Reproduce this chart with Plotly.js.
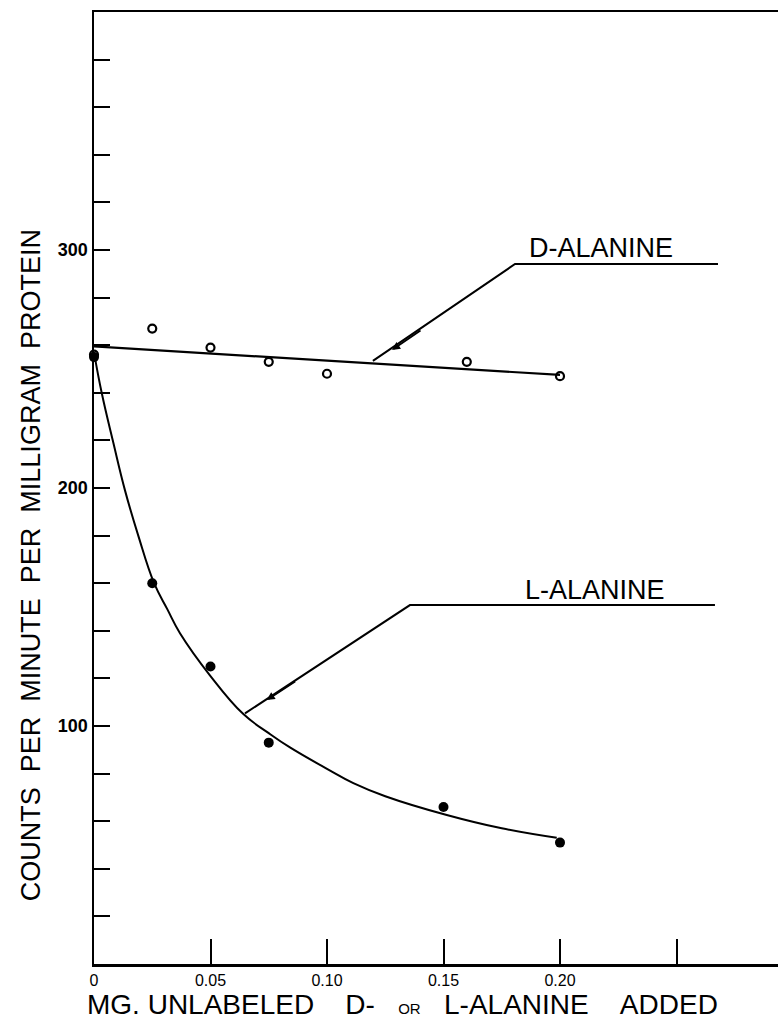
<!DOCTYPE html>
<html>
<head>
<meta charset="utf-8">
<script src="https://cdn.plot.ly/plotly-3.0.1.min.js"></script>
<style>html,body{margin:0;padding:0;background:#fff;}#chart{width:778px;height:1036px;}</style>
</head>
<body>
<div id="chart"></div>
<script>
// ---- data ----
const dAlanineX = [0, 0.025, 0.05, 0.075, 0.10, 0.16, 0.20];
const dAlanineY = [256, 267, 259, 253, 248, 253, 247];
const lAlanineX = [0, 0.025, 0.05, 0.075, 0.15, 0.20];
const lAlanineY = [255, 160, 125, 93, 66, 51];
const dFitX = [0, 0.20];
const dFitY = [259.5, 247.5];
const lCurveX = [0, 0.0033, 0.0083, 0.0133, 0.019, 0.0258, 0.0315, 0.0369, 0.05, 0.0641, 0.075, 0.0841, 0.10, 0.1113, 0.125, 0.1514, 0.175, 0.1986];
const lCurveY = [257, 240, 219, 199, 180, 160, 149, 139, 121, 105, 97, 91, 82, 76, 70.5, 62.6, 57, 53];
const xTickVals = [0, 0.05, 0.10, 0.15, 0.20, 0.25];
const xTickText = ['0', '0.05', '0.10', '0.15', '0.20', ''];
const yTickVals = [20, 40, 60, 80, 100, 120, 140, 160, 180, 200, 220, 240, 260, 280, 300, 320, 340, 360, 380];
const yTickText = ['', '', '', '', '100', '', '', '', '', '200', '', '', '', '', '300', '', '', '', ''];
const labelNames = ['D-ALANINE', 'L-ALANINE'];
const labelX = [0.2176, 0.215];
const labelY = [301, 157];
const dPointerX = [0.2678, 0.1807, 0.1197];
const dPointerY = [294.1, 294.1, 253.4];
const lPointerX = [0.2665, 0.1356, 0.0648];
const lPointerY = [150.8, 150.8, 105.3];
const arrowTipX = [0.1279, 0.0741];
const arrowTipY = [258.0, 110.9];
const NB = '\u00a0';
const xTitle = 'MG. UNLABELED' + NB.repeat(4) + 'D-' + NB.repeat(3) + '<span style="font-size:15px">OR</span>' + NB.repeat(3) + 'L-ALANINE' + NB.repeat(4) + 'ADDED';
const yTitle = 'COUNTS\u00a0\u00a0PER\u00a0\u00a0MINUTE\u00a0\u00a0PER\u00a0\u00a0MILLIGRAM\u00a0\u00a0PROTEIN';

const FONT = 'Liberation Sans, Arial, sans-serif';
const traces = [
  {x: dFitX, y: dFitY, mode: 'lines', line: {color: '#000', width: 2.2}, hoverinfo: 'skip', cliponaxis: false},
  {x: lCurveX, y: lCurveY, mode: 'lines', line: {color: '#000', width: 2, shape: 'spline', smoothing: 1.2}, hoverinfo: 'skip', cliponaxis: false},
  {x: dAlanineX, y: dAlanineY, mode: 'markers', cliponaxis: false,
   marker: {symbol: 'circle-open', size: 8, color: '#000', line: {width: 2.2, color: '#000'}}},
  {x: lAlanineX, y: lAlanineY, mode: 'markers', cliponaxis: false,
   marker: {symbol: 'circle', size: 10, color: '#000'}}
];

function pathFrom(xs, ys) {
  return xs.map((v, i) => (i === 0 ? 'M ' : ' L ') + v + ',' + ys[i]).join('');
}

const layout = {
  width: 778, height: 1036,
  margin: {l: 94, r: 0, t: 12, b: 72, pad: 0},
  paper_bgcolor: '#fff', plot_bgcolor: '#fff',
  showlegend: false,
  font: {family: FONT, color: '#000', size: 16},
  xaxis: {
    range: [0, 0.29356], showgrid: false, zeroline: false,
    showline: true, linecolor: '#000', linewidth: 2.5, mirror: true,
    ticks: 'inside', ticklen: 25, tickwidth: 2, tickcolor: '#000',
    tickvals: xTickVals, ticktext: xTickText,
    tickfont: {family: FONT, size: 16, color: '#000'}
  },
  yaxis: {
    range: [0, 400], showgrid: false, zeroline: false,
    showline: true, linecolor: '#000', linewidth: 2.5, mirror: false,
    ticks: 'inside', ticklen: 16, tickwidth: 2, tickcolor: '#000',
    tickvals: yTickVals, ticktext: yTickText,
    tickfont: {family: FONT, size: 18, color: '#000', weight: 'bold'}
  },
  shapes: [
    {type: 'path', xref: 'x', yref: 'y', path: pathFrom(dPointerX, dPointerY), line: {color: '#000', width: 2}},
    {type: 'path', xref: 'x', yref: 'y', path: pathFrom(lPointerX, lPointerY), line: {color: '#000', width: 2}}
  ],
  annotations: [
    {x: labelX[0], y: labelY[0], xref: 'x', yref: 'y', text: labelNames[0], showarrow: false,
     font: {family: FONT, size: 27, color: '#000'}, xanchor: 'center', yanchor: 'middle'},
    {x: labelX[1], y: labelY[1], xref: 'x', yref: 'y', text: labelNames[1], showarrow: false,
     font: {family: FONT, size: 27, color: '#000'}, xanchor: 'center', yanchor: 'middle'},
    {x: arrowTipX[0], y: arrowTipY[0], xref: 'x', yref: 'y', text: '', showarrow: true,
     ax: 30, ay: -20.5, arrowhead: 2, arrowsize: 0.9, arrowwidth: 1.8, arrowcolor: '#000', standoff: 0},
    {x: arrowTipX[1], y: arrowTipY[1], xref: 'x', yref: 'y', text: '', showarrow: true,
     ax: 30, ay: -19.6, arrowhead: 2, arrowsize: 0.9, arrowwidth: 1.8, arrowcolor: '#000', standoff: 0},
    {x: 0.451, y: -0.043, xref: 'paper', yref: 'paper', text: xTitle, showarrow: false,
     font: {family: FONT, size: 28, color: '#000'}, xanchor: 'center', yanchor: 'middle'},
    {x: -0.092, y: 0.419, xref: 'paper', yref: 'paper', text: yTitle, showarrow: false, textangle: -90,
     font: {family: FONT, size: 27, color: '#000'}, xanchor: 'center', yanchor: 'middle'}
  ]
};

Plotly.newPlot('chart', traces, layout, {displayModeBar: false, staticPlot: true});
</script>
</body>
</html>
